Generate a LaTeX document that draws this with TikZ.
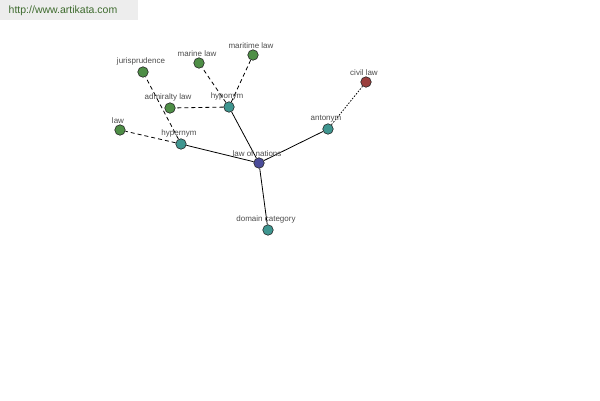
\documentclass[tikz,border=0pt]{standalone}
\usepackage{fontspec}
\setmainfont{Liberation Sans}
\usetikzlibrary{positioning}

\definecolor{leafgreen}{HTML}{4E8E46}
\definecolor{relteal}{HTML}{3F9690}
\definecolor{rootblue}{HTML}{4B4C9A}
\definecolor{antired}{HTML}{9A3E3C}
\definecolor{sitegreen}{HTML}{3E6B2E}

\begin{document}
\begin{tikzpicture}[x=1pt, y=-1pt, line width=0.8pt]
    \tikzset{
        every node/.style={font=\fontsize{8}{9}\selectfont, text=black!70},
        dot/.style={circle, draw=black!85, line width=0.6pt, minimum size=10.5pt, inner sep=0pt},
        tag/.style={above=0pt, inner sep=0.5pt, xshift=-2pt}
    }

    \useasboundingbox (0,0) rectangle (600,400);
    \fill [black!7] (0,0) rectangle (138,20);
    \node [font=\fontsize{10.5}{12}\selectfont, text=sitegreen, anchor=west] (site) at (5,10.5) {http://www.artikata.com};

    % root and relation nodes
    \node [dot, fill=rootblue] (nations) at (259,163) {};
    \node [dot, fill=relteal] (hypo) at (229,107) {};
    \node [dot, fill=relteal] (hyper) at (181,144) {};
    \node [dot, fill=relteal] (anto) at (328,129) {};
    \node [dot, fill=relteal] (domain) at (268,230) {};

    % word nodes
    \node [dot, fill=antired] (civil) at (366,82) {};
    \node [dot, fill=leafgreen] (maritime) at (253,55) {};
    \node [dot, fill=leafgreen] (marine) at (199,63) {};
    \node [dot, fill=leafgreen] (juris) at (143,72) {};
    \node [dot, fill=leafgreen] (admiralty) at (170,108) {};
    \node [dot, fill=leafgreen] (lawleaf) at (120,130) {};

    \foreach \n in {hypo, hyper, anto, domain} {
        \draw (nations) -- (\n);
    }
    \foreach \n in {maritime, marine, admiralty} {
        \draw [dash pattern=on 4pt off 3pt] (hypo) -- (\n);
    }
    \foreach \n in {juris, lawleaf} {
        \draw [dash pattern=on 4pt off 3pt] (hyper) -- (\n);
    }
    \draw [dash pattern=on 1.5pt off 1.5pt] (anto) -- (civil);

    \node [tag] at (nations.north) {law of nations};
    \node [tag] at (hypo.north) {hyponym};
    \node [tag] at (hyper.north) {hypernym};
    \node [tag] at (anto.north) {antonym};
    \node [tag] at (domain.north) {domain category};
    \node [tag] at (civil.north) {civil law};
    \node [tag] at (maritime.north) {maritime law};
    \node [tag] at (marine.north) {marine law};
    \node [tag] at (juris.north) {jurisprudence};
    \node [tag] at (admiralty.north) {admiralty law};
    \node [tag] at (lawleaf.north) {law};

\end{tikzpicture}
\end{document}
